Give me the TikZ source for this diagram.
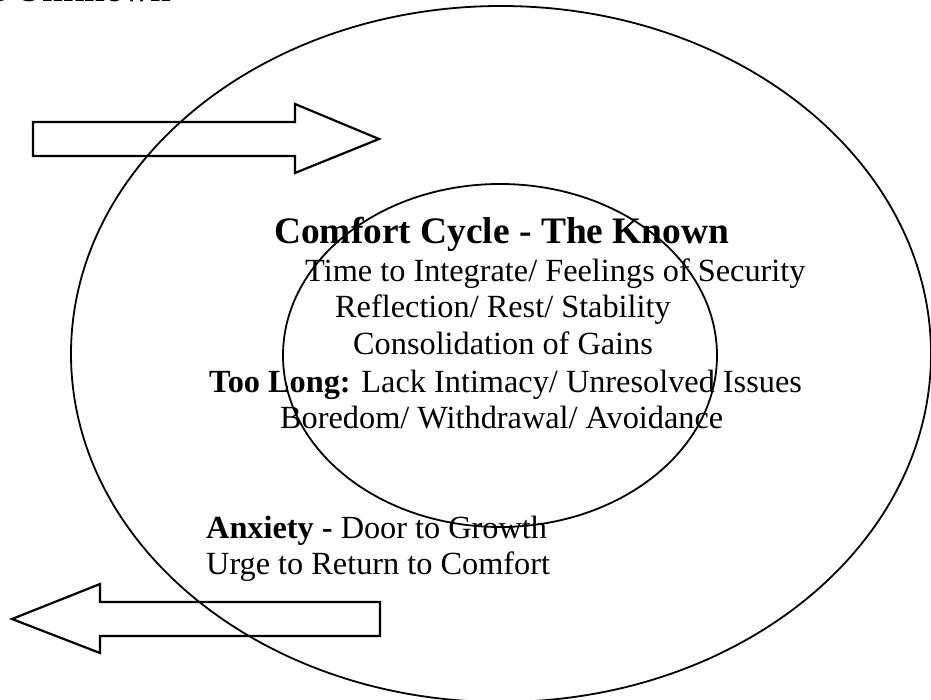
\documentclass[tikz,border=0pt]{standalone}
\usepackage{fontspec}
\setmainfont{Liberation Serif}
\begin{document}
\begin{tikzpicture}[x=1pt,y=-1pt,
  body/.style={anchor=base west, inner sep=0pt, font=\fontsize{32.3}{37}\selectfont},
  heading/.style={anchor=base west, inner sep=0pt, font=\fontsize{37.4}{42}\selectfont\bfseries},
  ring/.style={line width=1.8pt},
  bigarrow/.style={line width=2.2pt, line join=miter}]
\clip (0,0) rectangle (931,700);

% outer zone and inner comfort zone
\draw[ring] (501,354) ellipse [x radius=430pt, y radius=348pt];
\draw[ring] (500,355.5) ellipse [x radius=217pt, y radius=171.5pt];

% headings
\node[heading, anchor=base east] (unknown) at (172,2) {The Unknown};
\node[heading] (known) at (274,244) {Comfort Cycle - The Known};

% comfort zone description
\node[body] (l1) at (305,282) {Time to Integrate/ Feelings of Security};
\node[body] (l2) at (335,318) {Reflection/ Rest/ Stability};
\node[body] (l3) at (353,355) {Consolidation of Gains};
\node[body] (l4) at (209,392) {\textbf{Too Long:} Lack Intimacy/ Unresolved Issues};
\node[body] (l5) at (280,428) {Boredom/ Withdrawal/ Avoidance};

% anxiety notes
\node[body] (a1) at (206,538) {\textbf{Anxiety -} Door to Growth};
\node[body] (a2) at (206,574) {Urge to Return to Comfort};

% block arrows: going out and coming back
\draw[bigarrow] (33,122) -- (295,122) -- (295,104) -- (379,139) -- (295,173)
  -- (295,156) -- (33,156) -- cycle;
\draw[bigarrow] (380,602) -- (100,602) -- (100,584) -- (12,619) -- (100,653)
  -- (100,636) -- (380,636) -- cycle;
\end{tikzpicture}
\end{document}
